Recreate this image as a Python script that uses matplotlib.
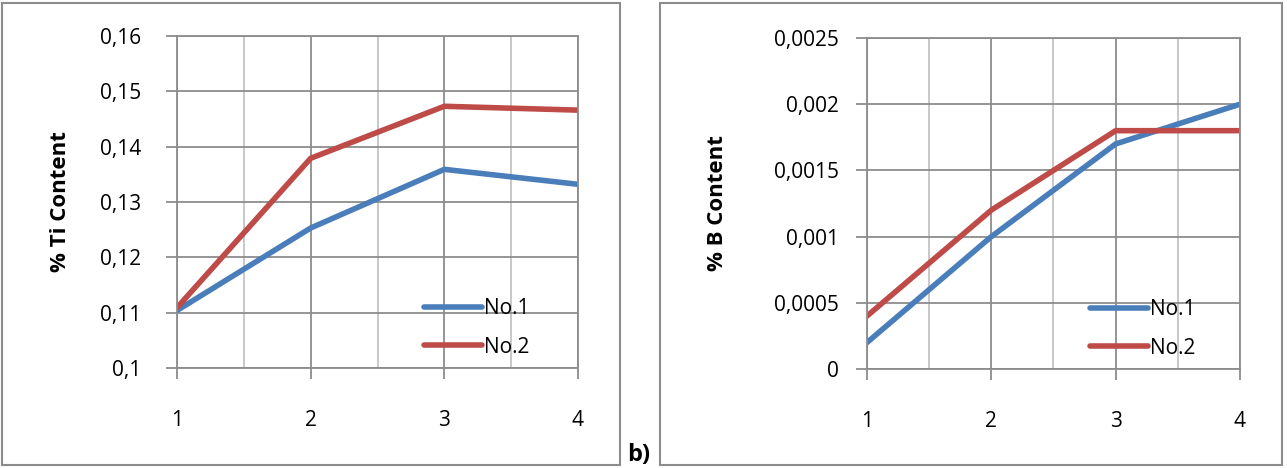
import matplotlib
matplotlib.use("Agg")
import matplotlib.pyplot as plt
from matplotlib.patches import Rectangle
from matplotlib.ticker import FuncFormatter, MultipleLocator

plt.rcParams['font.family'] = ['Open Sans', 'DejaVu Sans']

# datos
muestras = [1, 2, 3, 4]
ti_no1 = [0.1104, 0.1253, 0.1359, 0.1332]
ti_no2 = [0.1109, 0.1379, 0.1473, 0.1466]
b_no1 = [0.0002, 0.0010, 0.0017, 0.0020]
b_no2 = [0.0004, 0.0012, 0.0018, 0.0018]
series = ["No.1", "No.2"]

azul = "#4a7ebb"
rojo = "#be4b48"
W, H = 1287, 468

fig = plt.figure(figsize=(W / 100, H / 100), dpi=100)

# marcos grises de cada panel
for x0, x1 in [(2, 620), (660, 1282)]:
    fig.patches.append(Rectangle((x0 / W, 1 - 465 / H), (x1 - x0) / W, 462 / H,
                                 transform=fig.transFigure, fill=False,
                                 edgecolor="#8c8c8c", linewidth=1.5))


def coma(v, pos):
    s = ("%.4f" % v).rstrip("0").rstrip(".")
    return s.replace(".", ",")


def panel(rect, y1, y2, ylim, ystep, ylabel, xlab, leg_box, ypad):
    l, t, r, b = rect
    ax = fig.add_axes([l / W, 1 - b / H, (r - l) / W, (b - t) / H])
    ax.plot(muestras, y1, color=azul, lw=4, label=series[0], solid_capstyle="round")
    ax.plot(muestras, y2, color=rojo, lw=4, label=series[1], solid_capstyle="round")
    ax.set_xlim(1, 4)
    ax.set_ylim(*ylim)
    ax.yaxis.set_major_locator(MultipleLocator(ystep))
    ax.yaxis.set_major_formatter(FuncFormatter(coma))
    ax.set_xticks(muestras)
    ax.set_xticks([1.5, 2.5, 3.5], minor=True)
    ax.grid(True, which="major", color="#8c8c8c", lw=1.3)
    ax.grid(True, which="minor", axis="x", color="#c4c4c4", lw=1.3)
    ax.tick_params(which="minor", length=0)
    ax.tick_params(which="major", length=8, width=1.3, color="#8c8c8c",
                   labelsize=15, labelcolor="black")
    ax.tick_params(axis="x", pad=22)
    ax.tick_params(axis="y", pad=ypad)
    for s in ax.spines.values():
        s.set_color("#8c8c8c")
        s.set_linewidth(1.3)
    ax.set_axisbelow(True)
    fig.text(xlab / W, 1 - (t + b) / 2 / H, ylabel, rotation=90, fontsize=16,
             fontweight="bold", ha="center", va="center")
    ax.legend(loc="lower left", bbox_to_anchor=leg_box, frameon=False, fontsize=15,
              handlelength=2.8, handletextpad=0.1, labelspacing=0.85, borderpad=0)
    return ax


panel((177, 36, 578, 368), ti_no1, ti_no2, (0.1, 0.16), 0.01, "% Ti Content", 60, (0.59, 0.0), 18)
panel((867, 38, 1240, 369), b_no1, b_no2, (0, 0.0025), 0.0005, "% B Content", 718, (0.57, 0.0), 12)

fig.text(627 / W, 1 - 455 / H, "b)", fontsize=17, fontweight="bold", va="center")

fig.savefig("out.png", dpi=100)
